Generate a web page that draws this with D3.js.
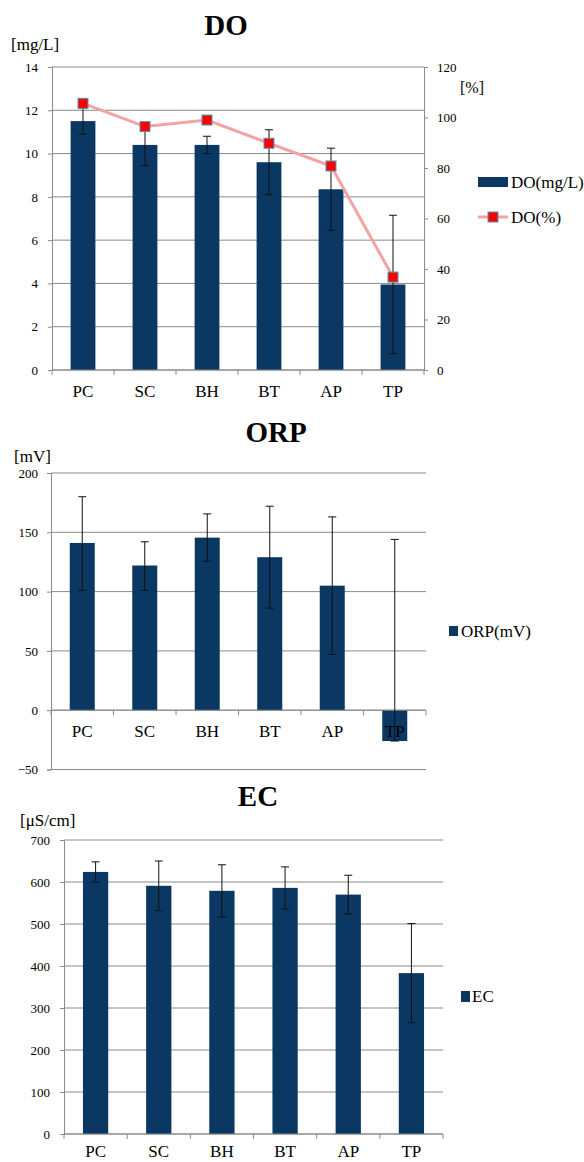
<!DOCTYPE html>
<html>
<head>
<meta charset="utf-8">
<script src="https://cdn.jsdelivr.net/npm/d3@7"></script>
<style>
  body { margin: 0; background: #fff; }
</style>
</head>
<body>
<div id="chart"></div>
<script>
const sites = ['PC', 'SC', 'BH', 'BT', 'AP', 'TP'];

// DO
const doMgL = [11.5, 10.4, 10.4, 9.6, 8.35, 3.95];
const doMgLErr = [0.6, 0.95, 0.4, 1.5, 1.9, 3.2];
const doPct = [105.6, 96.4, 99.0, 89.8, 80.8, 36.8];
const doTicks = [0, 2, 4, 6, 8, 10, 12, 14];
const doPctTicks = [0, 20, 40, 60, 80, 100, 120];

// ORP
const orp = [141, 122, 145.5, 129, 105, -26];
const orpErrPlus = [39, 20, 20, 43, 58, 170];
const orpErrMinus = [40, 21, 20, 43, 58, 0];
const orpTicks = [-50, 0, 50, 100, 150, 200];

// EC
const ec = [624, 591, 579, 586, 570, 383];
const ecErr = [24, 59, 62, 50, 46, 118];
const ecTicks = [0, 100, 200, 300, 400, 500, 600, 700];

const BAR = '#0b3763';
const GRID = '#8a8a8a';
const FONT = '"Liberation Serif", "Times New Roman", serif';

const svg = d3.select('#chart').append('svg')
	.attr('width', 584)
	.attr('height', 1162)
	.style('font-family', FONT);

function label(sel) {
	return sel.style('font-family', FONT).attr('fill', '#000');
}

function barChart(o) {
	const g = svg.append('g');

	const x = d3.scaleBand()
		.domain(sites)
		.range([o.left, o.right])
		.paddingInner(0.6)
		.paddingOuter(0.3);

	const y = d3.scaleLinear()
		.domain(o.domain)
		.range([o.bottom, o.top]);

	// gridlines
	g.selectAll('.grid')
		.data(o.ticks)
		.enter().append('line')
			.attr('x1', o.left)
			.attr('x2', o.right)
			.attr('y1', d => y(d))
			.attr('y2', d => y(d))
			.attr('stroke', GRID)
			.attr('stroke-width', 1);

	// left axis
	const yAxis = g.append('g')
		.attr('transform', `translate(${o.left},0)`)
		.call(d3.axisLeft(y).tickValues(o.ticks).tickSize(4).tickPadding(o.labelPad))
	yAxis.select('.domain').attr('stroke', GRID);
	yAxis.selectAll('.tick line').attr('stroke', GRID);
	label(yAxis.selectAll('text')).style('font-size', '13px');

	// bars
	g.selectAll('.bar')
		.data(o.values)
		.enter().append('rect')
			.attr('x', (d, i) => x(sites[i]))
			.attr('width', x.bandwidth())
			.attr('y', d => y(Math.max(0, d)))
			.attr('height', d => Math.abs(y(d) - y(0)))
			.attr('fill', BAR);

	// x axis line at zero
	const y0 = y(0);
	g.append('line')
		.attr('x1', o.left).attr('x2', o.right)
		.attr('y1', y0).attr('y2', y0)
		.attr('stroke', GRID);
	g.selectAll('.xtick')
		.data(d3.range(sites.length + 1))
		.enter().append('line')
			.attr('x1', i => o.left + i * x.step())
			.attr('x2', i => o.left + i * x.step())
			.attr('y1', y0).attr('y2', y0 + 5)
			.attr('stroke', GRID);

	label(g.selectAll('.xlabel')
		.data(sites)
		.enter().append('text'))
			.attr('x', d => x(d) + x.bandwidth() / 2)
			.attr('y', y0 + o.catPad)
			.attr('text-anchor', 'middle')
			.style('font-size', '17px')
			.text(d => d);

	// error bars
	const hi = o.values.map((v, i) => v + o.errPlus[i]);
	const lo = o.values.map((v, i) => v - o.errMinus[i]);
	const eb = g.selectAll('.err')
		.data(o.values)
		.enter().append('g')
			.attr('stroke', '#111')
			.attr('stroke-width', 1);
	eb.append('line')
		.attr('x1', (d, i) => x(sites[i]) + x.bandwidth() / 2)
		.attr('x2', (d, i) => x(sites[i]) + x.bandwidth() / 2)
		.attr('y1', (d, i) => y(hi[i]))
		.attr('y2', (d, i) => y(lo[i]));
	[hi, lo].forEach(arr => {
		eb.append('line')
			.attr('x1', (d, i) => x(sites[i]) + x.bandwidth() / 2 - 4)
			.attr('x2', (d, i) => x(sites[i]) + x.bandwidth() / 2 + 4)
			.attr('y1', (d, i) => y(arr[i]))
			.attr('y2', (d, i) => y(arr[i]));
	});

	// title and unit
	label(g.append('text'))
		.attr('x', o.titleX)
		.attr('y', o.titleY)
		.attr('text-anchor', 'middle')
		.style('font-size', '29px')
		.style('font-weight', 'bold')
		.text(o.title);

	label(g.append('text'))
		.attr('x', o.unitX)
		.attr('y', o.unitY)
		.style('font-size', '17px')
		.text(o.unit);

	return { g, x, y };
}

// ---- DO ----
const doChart = barChart({
	left: 52, right: 424, top: 67, bottom: 370,
	domain: [0, 14], ticks: doTicks,
	values: doMgL, errPlus: doMgLErr, errMinus: doMgLErr,
	labelPad: 10, catPad: 27,
	title: 'DO', titleX: 226, titleY: 35,
	unit: '[mg/L]', unitX: 11, unitY: 50
});

const yPct = d3.scaleLinear().domain([0, 120]).range([370, 67]);
const rAxis = doChart.g.append('g')
	.attr('transform', 'translate(424,0)')
	.call(d3.axisRight(yPct).tickValues(doPctTicks).tickSize(4).tickPadding(9));
rAxis.select('.domain').attr('stroke', GRID);
rAxis.selectAll('.tick line').attr('stroke', GRID);
label(rAxis.selectAll('text')).style('font-size', '13px');

label(doChart.g.append('text'))
	.attr('x', 460).attr('y', 93)
	.style('font-size', '16px')
	.text('[%]');

const pctLine = d3.line()
	.x((d, i) => doChart.x(sites[i]) + doChart.x.bandwidth() / 2)
	.y(d => yPct(d));

doChart.g.append('path')
	.datum(doPct)
	.attr('d', pctLine)
	.attr('fill', 'none')
	.attr('stroke', '#f4a3a3')
	.attr('stroke-width', 3);

doChart.g.selectAll('.mk')
	.data(doPct)
	.enter().append('rect')
		.attr('x', (d, i) => doChart.x(sites[i]) + doChart.x.bandwidth() / 2 - 5)
		.attr('y', d => yPct(d) - 5)
		.attr('width', 10).attr('height', 10)
		.attr('fill', '#ff0000')
		.attr('stroke', '#4a9ab8')
		.attr('stroke-width', 1);

// DO legend
doChart.g.append('rect')
	.attr('x', 478).attr('y', 177).attr('width', 30).attr('height', 10)
	.attr('fill', BAR);
label(doChart.g.append('text'))
	.attr('x', 511).attr('y', 188).style('font-size', '17px').text('DO(mg/L)');
doChart.g.append('line')
	.attr('x1', 478).attr('x2', 508).attr('y1', 217).attr('y2', 217)
	.attr('stroke', '#f4a3a3').attr('stroke-width', 3);
doChart.g.append('rect')
	.attr('x', 488).attr('y', 212).attr('width', 10).attr('height', 10)
	.attr('fill', '#ff0000').attr('stroke', '#4a9ab8');
label(doChart.g.append('text'))
	.attr('x', 511).attr('y', 223).style('font-size', '17px').text('DO(%)');

// ---- ORP ----
const orpChart = barChart({
	left: 51, right: 426, top: 473, bottom: 769.5,
	domain: [-50, 200], ticks: orpTicks,
	values: orp, errPlus: orpErrPlus, errMinus: orpErrMinus,
	labelPad: 9, catPad: 27,
	title: 'ORP', titleX: 276, titleY: 442,
	unit: '[mV]', unitX: 14, unitY: 462
});
orpChart.g.append('rect')
	.attr('x', 449).attr('y', 626).attr('width', 9).attr('height', 10)
	.attr('fill', BAR);
label(orpChart.g.append('text'))
	.attr('x', 461).attr('y', 637).style('font-size', '17px').text('ORP(mV)');

// ---- EC ----
const ecChart = barChart({
	left: 64, right: 443, top: 840, bottom: 1134,
	domain: [0, 700], ticks: ecTicks,
	values: ec, errPlus: ecErr, errMinus: ecErr,
	labelPad: 10, catPad: 23,
	title: 'EC', titleX: 258, titleY: 806,
	unit: '[\u03bcS/cm]', unitX: 20, unitY: 826
});
ecChart.g.append('rect')
	.attr('x', 461).attr('y', 991).attr('width', 9).attr('height', 11)
	.attr('fill', BAR);
label(ecChart.g.append('text'))
	.attr('x', 472).attr('y', 1002).style('font-size', '17px').text('EC');
</script>
</body>
</html>
